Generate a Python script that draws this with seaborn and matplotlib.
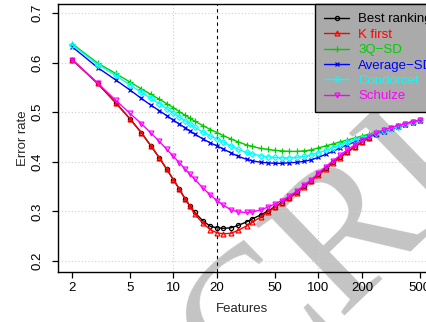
import matplotlib
matplotlib.use("Agg")
import matplotlib.pyplot as plt
import seaborn as sns

features = [2, 3, 4, 5, 6, 7, 8, 9, 10, 11, 12, 13, 14, 16, 18, 20, 22, 25, 28, 32, 35, 40, 45, 50,
            56, 63, 71, 80, 89, 100, 112, 126, 141, 158, 178, 200, 224, 251, 282, 316, 355, 398, 447, 500]

best_ranking = [0.606, 0.558, 0.519, 0.487, 0.459, 0.432, 0.408, 0.385, 0.364, 0.345, 0.326, 0.311, 0.298,
                0.281, 0.270, 0.267, 0.266, 0.267, 0.272, 0.279, 0.285, 0.293, 0.301, 0.309, 0.318, 0.328,
                0.339, 0.351, 0.362, 0.375, 0.387, 0.399, 0.410, 0.420, 0.430, 0.440, 0.449, 0.457, 0.463,
                0.468, 0.473, 0.477, 0.481, 0.484]
k_first = [0.606, 0.558, 0.519, 0.487, 0.459, 0.432, 0.408, 0.385, 0.364, 0.345, 0.326, 0.310, 0.295,
           0.276, 0.263, 0.257, 0.255, 0.256, 0.262, 0.271, 0.278, 0.289, 0.299, 0.308, 0.317, 0.327,
           0.338, 0.350, 0.361, 0.373, 0.385, 0.397, 0.408, 0.419, 0.430, 0.439, 0.448, 0.456, 0.462,
           0.468, 0.473, 0.477, 0.481, 0.484]
q3_sd = [0.638, 0.599, 0.578, 0.561, 0.547, 0.536, 0.526, 0.517, 0.509, 0.501, 0.494, 0.488, 0.482,
         0.473, 0.465, 0.459, 0.453, 0.446, 0.440, 0.434, 0.431, 0.427, 0.425, 0.423, 0.422, 0.421,
         0.421, 0.422, 0.424, 0.428, 0.432, 0.436, 0.440, 0.444, 0.448, 0.452, 0.456, 0.460, 0.464,
         0.468, 0.472, 0.476, 0.480, 0.484]
average_sd = [0.632, 0.590, 0.565, 0.545, 0.528, 0.514, 0.503, 0.493, 0.484, 0.476, 0.469, 0.462, 0.456,
              0.446, 0.438, 0.432, 0.426, 0.418, 0.411, 0.405, 0.402, 0.399, 0.398, 0.397, 0.397, 0.398,
              0.399, 0.401, 0.404, 0.409, 0.415, 0.421, 0.428, 0.434, 0.440, 0.445, 0.451, 0.456, 0.461,
              0.466, 0.470, 0.475, 0.479, 0.483]
condorcet = [0.636, 0.596, 0.574, 0.555, 0.540, 0.528, 0.517, 0.507, 0.498, 0.490, 0.483, 0.476, 0.470,
             0.460, 0.452, 0.446, 0.440, 0.432, 0.425, 0.419, 0.416, 0.412, 0.410, 0.409, 0.408, 0.408,
             0.409, 0.411, 0.414, 0.418, 0.423, 0.428, 0.434, 0.439, 0.444, 0.448, 0.453, 0.458, 0.463,
             0.467, 0.471, 0.476, 0.480, 0.484]
schulze = [0.606, 0.559, 0.524, 0.498, 0.477, 0.458, 0.441, 0.425, 0.411, 0.398, 0.386, 0.375, 0.365,
           0.347, 0.333, 0.322, 0.313, 0.303, 0.299, 0.298, 0.299, 0.303, 0.309, 0.315, 0.322, 0.331,
           0.341, 0.353, 0.364, 0.377, 0.390, 0.402, 0.413, 0.424, 0.434, 0.443, 0.451, 0.458, 0.464,
           0.469, 0.473, 0.477, 0.481, 0.484]

methods = ["Best ranking", "K first", "3Q\u2212SD", "Average\u2212SD", "Condorcet", "Schulze"]
series = [best_ranking, k_first, q3_sd, average_sd, condorcet, schulze]
colors = ["#000000", "#ff0000", "#00cd00", "#0000ff", "#00ffff", "#ff00ff"]
markers = ["o", "^", "+", "x", "D", "v"]
msizes = [3.0, 3.5, 5.0, 3.5, 3.0, 3.5]

x_ticks = [2, 5, 10, 20, 50, 100, 200, 500]
y_ticks = [0.2, 0.3, 0.4, 0.5, 0.6, 0.7]

sns.set_style("ticks")
plt.rcParams["font.family"] = ["Liberation Sans", "DejaVu Sans"]
plt.rcParams["axes.grid"] = False

fig = plt.figure(figsize=(4.27, 3.22), dpi=100)
ax = fig.add_axes([58 / 427, 1 - 272 / 322, 1 - 58 / 427, 268 / 322])
ax.set_facecolor("none")

# watermark
fig.text(245 / 427, 1 - 405 / 322, "CRIPT", rotation=44, rotation_mode="anchor",
         ha="left", va="baseline", fontsize=140, family="Liberation Serif",
         color="#c4c4c4", zorder=-5)

ax.set_xscale("log")
ax.set_xlim(1.6, 561)
ax.set_ylim(0.178, 0.718)

for yv in y_ticks:
    ax.axhline(yv, color="#cfcfcf", lw=0.8, ls=(0, (1, 2)), zorder=0)
for xv in [10, 100]:
    ax.axvline(xv, color="#cfcfcf", lw=0.8, ls=(0, (1, 2)), zorder=0)
ax.axvline(20, color="black", lw=0.8, ls=(0, (3, 3)), zorder=1)

for name, vals, c, m, ms in zip(methods, series, colors, markers, msizes):
    sns.lineplot(x=features, y=vals, ax=ax, color=c, marker=m, markersize=ms,
                 markerfacecolor="none", markeredgecolor=c, markeredgewidth=0.9,
                 linewidth=1.0, label=name, zorder=3)

ax.set_xticks(x_ticks)
ax.set_xticklabels([str(t) for t in x_ticks])
ax.xaxis.set_minor_locator(matplotlib.ticker.NullLocator())
ax.set_yticks(y_ticks)
ax.set_yticklabels([f"{t:.1f}" for t in y_ticks], rotation=90, va="center")

ax.tick_params(axis="both", direction="out", length=4.5, width=0.9, color="black",
               labelsize=9.5, labelcolor="black")
ax.tick_params(axis="x", pad=3)
ax.tick_params(axis="y", pad=6)

for side in ["left", "bottom", "top"]:
    ax.spines[side].set_color("black")
    ax.spines[side].set_linewidth(1.0)
ax.spines["right"].set_visible(False)

ax.set_xlabel("Features", fontsize=9.5, labelpad=6)
ax.set_ylabel("Error rate", fontsize=9.5, labelpad=2)

leg = ax.legend(loc="upper left", bbox_to_anchor=(0.696, 1.0), borderaxespad=0,
                frameon=True, fancybox=False, facecolor="#aaaaaa", edgecolor="black",
                framealpha=1, fontsize=9.5, labelspacing=0.24, handlelength=1.9,
                handletextpad=0.7, borderpad=0.7, labelcolor="linecolor")
leg.get_frame().set_linewidth(1.0)

ax.xaxis.grid(False, which="both")
ax.yaxis.grid(False, which="both")

fig.savefig("out.png", dpi=100)
